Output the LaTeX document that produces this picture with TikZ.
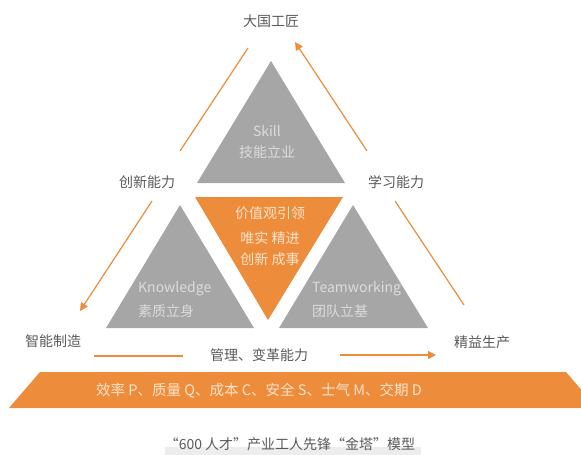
\documentclass[tikz,border=0pt]{standalone}
\usepackage{fontspec}
\newfontfamily\cjk{Noto Sans CJK SC}
\usetikzlibrary{arrows.meta}
\definecolor{org}{HTML}{ED8C3B}
\definecolor{gry}{HTML}{A6A6A6}
\definecolor{txt}{HTML}{595959}
\definecolor{ltg}{HTML}{DCDCDC}
\definecolor{lto}{HTML}{FCE3CC}
\definecolor{band}{HTML}{EDEDED}
\tikzset{
  lbl/.style={font=\cjk\fontsize{14}{16}\selectfont, text=txt, inner sep=0pt},
  intext/.style={font=\cjk\fontsize{14}{16}\selectfont, text=ltg, inner sep=0pt},
  ortext/.style={font=\cjk\fontsize{14}{16}\selectfont, text=lto, inner sep=0pt},
  conn/.style={draw=org, line width=1.2pt},
  arr/.style={conn, -{Triangle[length=8pt,width=8pt]}},
}
\begin{document}
\begin{tikzpicture}[x=1pt,y=-1pt]
\useasboundingbox (0,0) rectangle (581,455);
% triangles
\fill[gry] (271,61) -- (345,183) -- (197,183) -- cycle;
\fill[org] (195,197) -- (343,197) -- (268,320) -- cycle;
\fill[gry] (180,205) -- (254,328) -- (106,328) -- cycle;
\fill[gry] (353,205) -- (428,328) -- (279,328) -- cycle;
% bottom bar
\begin{scope}
\clip (0,0) rectangle (581,455);
\fill[org] (9,408) -- (40,372) -- (566,372) -- (597,408) -- cycle;
\end{scope}
\fill[band] (165,447) rectangle (421,455);
% labels
\node[lbl] (top) at (271,21) {大国工匠};
\node[lbl] (cx) at (147,182) {创新能力};
\node[lbl] (xx) at (396,182) {学习能力};
\node[lbl] (zn) at (53,341) {智能制造};
\node[lbl] (jy) at (482,342) {精益生产};
\node[lbl] (gl) at (259,355) {管理、变革能力};
% inner texts
\node[intext] (sk) at (267,131) {Skill};
\node[intext] (sk2) at (267,152) {技能立业};
\node[intext,anchor=west] (kn) at (138,289) {Knowledge};
\node[intext,anchor=west] (kn2) at (138,311) {素质立身};
\node[intext,anchor=west] (tw) at (312,289) {Teamworking};
\node[intext,anchor=west] (tw2) at (312,311) {团队立基};
\node[ortext] (v1) at (270,213) {价值观引领};
\node[ortext] (v2) at (270,238) {唯实 精进};
\node[ortext] (v3) at (270,259) {创新 成事};
\node[ortext,font=\cjk\fontsize{14.5}{16}\selectfont] (bar) at (259,391) {效率 P、质量 Q、成本 C、安全 S、士气 M、交期 D};
\node[lbl,text=txt] (cap) at (290,444) {“600 人才”产业工人先锋“金塔”模型};
% connectors
\coordinate (a1) at (180,151); \coordinate (a2) at (248,48);
\coordinate (b1) at (367,151); \coordinate (b2) at (295,42);
\coordinate (c1) at (152,201); \coordinate (c2) at (80,311);
\coordinate (d1) at (395,201); \coordinate (d2) at (464,305);
\coordinate (e1) at (94,356); \coordinate (e2) at (183,356);
\coordinate (f1) at (340,355); \coordinate (f2) at (436,355);
\draw[conn] (a1) -- (a2);
\draw[arr] (b1) -- (b2);
\draw[arr] (c1) -- (c2);
\draw[conn] (d1) -- (d2);
\draw[conn] (e1) -- (e2);
\draw[arr] (f1) -- (f2);
\end{tikzpicture}
\end{document}
